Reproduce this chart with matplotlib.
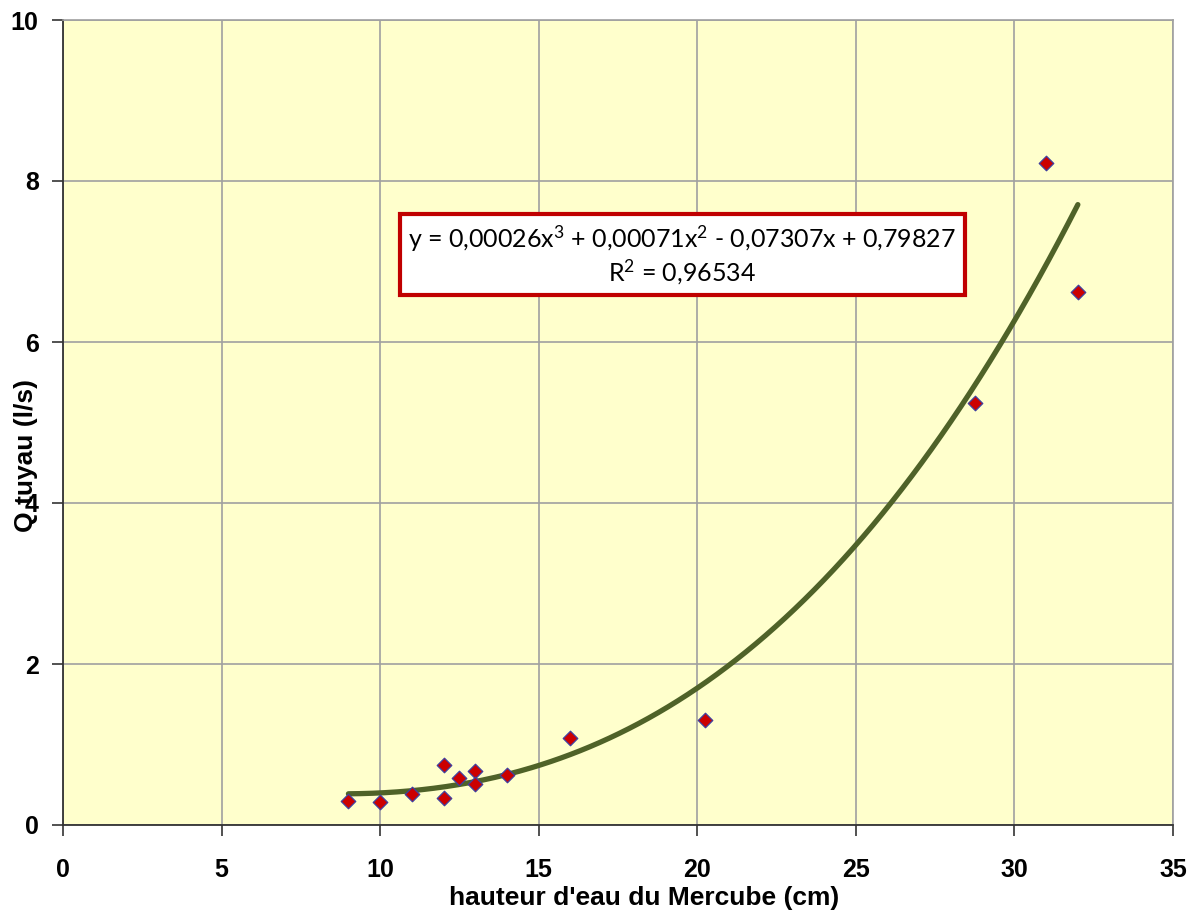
import numpy as np
import matplotlib
matplotlib.use("Agg")
import matplotlib.pyplot as plt

# Measured flow through the pipe vs water height in the Mercube
hauteur_cm = [9, 10, 11, 12, 12, 12.5, 13, 13, 14, 16, 20.25, 28.75, 31, 32]
q_tuyau_ls = [0.30, 0.29, 0.38, 0.75, 0.335, 0.58, 0.67, 0.51, 0.62, 1.08, 1.31, 5.24, 8.22, 6.62]

# Cubic trend line coefficients (highest degree first)
trend_coefs = [0.00026, 0.00071, -0.07307, 0.79827]
r_squared = 0.96534

x_ticks = [0, 5, 10, 15, 20, 25, 30, 35]
y_ticks = [0, 2, 4, 6, 8, 10]

plt.rcParams['font.family'] = ['Liberation Sans', 'DejaVu Sans']
plt.rcParams['mathtext.fontset'] = 'custom'
plt.rcParams['mathtext.rm'] = 'Lato'
plt.rcParams['mathtext.it'] = 'Lato'

fig = plt.figure(figsize=(11.97, 9.16), dpi=100)
ax = fig.add_axes([63 / 1197, 1 - 825 / 916, (1173 - 63) / 1197, (825 - 20) / 916])
ax.set_facecolor('#FFFFCC')

ax.set_xlim(0, 35)
ax.set_ylim(0, 10)
ax.set_xticks(x_ticks)
ax.set_yticks(y_ticks)
ax.grid(True, color='#A0A0A0', linewidth=1.2)
ax.set_axisbelow(True)

for side in ('top', 'right'):
    ax.spines[side].set_color('#A0A0A0')
    ax.spines[side].set_linewidth(1.2)
for side in ('left', 'bottom'):
    ax.spines[side].set_color('#333333')
    ax.spines[side].set_linewidth(1.3)

ax.tick_params(axis='both', direction='out', length=8, width=1.2, color='#333333',
               labelsize=18)
ax.tick_params(axis='y', pad=9.5)
ax.tick_params(axis='x', pad=16)
for lbl in ax.get_xticklabels() + ax.get_yticklabels():
    lbl.set_fontweight('bold')

# Trend line
xs = np.linspace(min(hauteur_cm), max(hauteur_cm), 300)
ax.plot(xs, np.polyval(trend_coefs, xs), color='#4F6228', linewidth=3.8,
        solid_capstyle='round', zorder=3)

# Measured points
ax.scatter(hauteur_cm, q_tuyau_ls, marker='D', s=55, facecolor='#CC0000',
           edgecolor='#3F3F9F', linewidth=0.9, zorder=4)

def fmt(v, nd=5):
    return f"{abs(v):.{nd}f}".replace('.', ',')

a, b, c, d = trend_coefs
eq = (f"y = {fmt(a)}x$^{{3}}$ + {fmt(b)}x$^{{2}}$ "
      f"{'-' if c < 0 else '+'} {fmt(c)}x + {fmt(d)}\nR$^{{2}}$ = {fmt(r_squared)}")
ax.text(19.53, 7.08, eq, ha='center', va='center', fontsize=18,
        family=['Lato', 'DejaVu Sans'], linespacing=1.15, zorder=5,
        bbox=dict(boxstyle='square,pad=0.35', facecolor='white',
                  edgecolor='#C00000', linewidth=3))

fig.text(644 / 1197, 1 - 898 / 916, "hauteur d'eau du Mercube (cm)", ha='center',
         va='center', fontsize=19, fontweight='bold')
fig.text(26 / 1197, 1 - 455 / 916, "Q tuyau (l/s)", ha='center', va='center',
         rotation=90, fontsize=19, fontweight='bold')

fig.savefig('out.png', dpi=100)
